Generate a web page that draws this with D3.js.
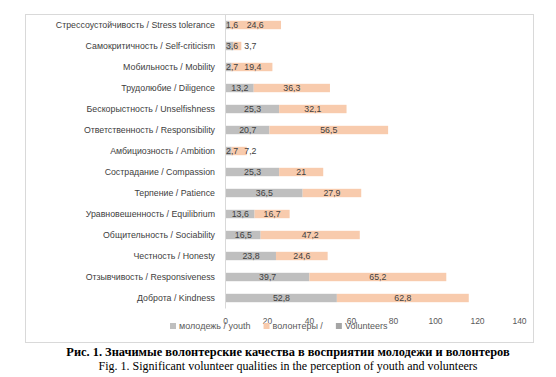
<!DOCTYPE html>
<html>
<head>
<meta charset="utf-8">
<script src="https://cdn.jsdelivr.net/npm/d3@7"></script>
<style>
  body { margin: 0; background: #fff; }
  svg { display: block; }
</style>
</head>
<body>
<div id="chart"></div>
<script>
// categories, top to bottom
var categories = [
    "Стрессоустойчивость / Stress tolerance",
    "Самокритичность / Self-criticism",
    "Мобильность / Mobility",
    "Трудолюбие / Diligence",
    "Бескорыстность / Unselfishness",
    "Ответственность / Responsibility",
    "Амбициозность / Ambition",
    "Сострадание / Compassion",
    "Терпение / Patience",
    "Уравновешенность / Equilibrium",
    "Общительность / Sociability",
    "Честность / Honesty",
    "Отзывчивость / Responsiveness",
    "Доброта / Kindness"
];
var youth      = [1.6, 3.6, 2.7, 13.2, 25.3, 20.7, 2.7, 25.3, 36.5, 13.6, 16.5, 23.8, 39.7, 52.8];
var volunteers = [24.6, 3.7, 19.4, 36.3, 32.1, 56.5, 7.2, 21, 27.9, 16.7, 47.2, 24.6, 65.2, 62.8];
var xTicks = [0, 20, 40, 60, 80, 100, 120, 140];
var legendNames = ["молодежь / youth", "волонтеры /", "Volunteers"];
var captionLines = [
    "Рис. 1. Значимые волонтерские качества в восприятии молодежи и волонтеров",
    "Fig. 1. Significant volunteer qualities in the perception of youth and volunteers"
];

var W = 556, H = 377;
var grayCol = "#bfbfbf", peachCol = "#f8cbad";
var legendColors = [grayCol, peachCol, "#a5a5a5"];
var font = "'Liberation Sans', Arial, sans-serif";

var svg = d3.select("#chart").append("svg")
    .attr("width", W)
    .attr("height", H);

// рамка диаграммы
svg.append("rect")
    .attr("x", 25.5).attr("y", 14.5)
    .attr("width", 508).attr("height", 328)
    .attr("fill", "none")
    .attr("stroke", "#d9d9d9");

var x = d3.scaleLinear().domain([0, 140]).range([225, 519]);
var y = d3.scaleBand().domain(categories).range([14.5, 308.5]).paddingInner(0.6).paddingOuter(0.3);

// x axis labels (no line)
var xAxis = d3.axisBottom(x).tickValues(xTicks).tickSize(0).tickPadding(9);
var gx = svg.append("g")
    .attr("transform", "translate(0,308.5)")
    .call(xAxis);
gx.select(".domain").remove();
gx.selectAll("text")
    .style("font-family", font)
    .style("font-size", "8.5px")
    .attr("fill", "#595959");

// category axis
svg.append("line")
    .attr("x1", x(0) + 0.5).attr("x2", x(0) + 0.5)
    .attr("y1", 14.5).attr("y2", 308.5)
    .attr("stroke", "#d9d9d9");

svg.selectAll("text.cat")
    .data(categories)
    .enter().append("text")
    .attr("class", "cat")
    .attr("x", 215)
    .attr("y", function(d) { return y(d) + y.bandwidth() / 2; })
    .attr("dy", "0.35em")
    .attr("text-anchor", "end")
    .style("font-family", font)
    .style("font-size", "8.8px")
    .attr("fill", "#404040")
    .text(function(d) { return d; });

var rows = categories.map(function(c, i) {
    return { cat: c, youth: youth[i], vol: volunteers[i] };
});

// bars
var g = svg.append("g");
g.selectAll("rect.youth")
    .data(rows)
    .enter().append("rect")
    .attr("x", x(0) + 1)
    .attr("y", function(d) { return y(d.cat); })
    .attr("width", function(d) { return x(d.youth) - x(0); })
    .attr("height", y.bandwidth())
    .attr("fill", grayCol);

g.selectAll("rect.vol")
    .data(rows)
    .enter().append("rect")
    .attr("x", function(d) { return x(d.youth) + 1; })
    .attr("y", function(d) { return y(d.cat); })
    .attr("width", function(d) { return x(d.youth + d.vol) - x(d.youth); })
    .attr("height", y.bandwidth())
    .attr("fill", peachCol);

// data labels, centred in segments, pushed right if they collide
function fmt(v) { return String(v).replace(".", ","); }

rows.forEach(function(d) {
    var cy = y(d.cat) + y.bandwidth() / 2;
    var t1 = g.append("text")
        .attr("y", cy).attr("dy", "0.35em")
        .attr("text-anchor", "middle")
        .style("font-family", font).style("font-size", "8.8px")
        .attr("fill", "#404040")
        .text(fmt(d.youth));
    var w1 = t1.node().getComputedTextLength();
    var c1 = Math.max((x(0) + x(d.youth)) / 2 + 1, x(0) + w1 / 2 + 1);
    t1.attr("x", c1);

    var t2 = g.append("text")
        .attr("y", cy).attr("dy", "0.35em")
        .attr("text-anchor", "middle")
        .style("font-family", font).style("font-size", "8.8px")
        .attr("fill", "#404040")
        .text(fmt(d.vol));
    var w2 = t2.node().getComputedTextLength();
    var c2 = Math.max((x(d.youth) + x(d.youth + d.vol)) / 2 + 1, c1 + w1 / 2 + 6 + w2 / 2);
    t2.attr("x", c2);
});

// legend (overlapping the tick labels as in the original)
var lx = 170, ly = 326;
legendNames.forEach(function(name, i) {
    svg.append("rect")
        .attr("x", lx).attr("y", ly - 3)
        .attr("width", 6).attr("height", 6)
        .attr("fill", legendColors[i]);
    var t = svg.append("text")
        .attr("x", lx + 9).attr("y", ly).attr("dy", "0.35em")
        .style("font-family", font).style("font-size", "9px")
        .attr("fill", "#595959")
        .text(name);
    lx += 9 + t.node().getComputedTextLength() + 13;
});

// caption
svg.selectAll("text.caption")
    .data(captionLines)
    .enter().append("text")
    .attr("class", "caption")
    .attr("x", 288)
    .attr("y", function(d, i) { return 356 + i * 14; })
    .attr("text-anchor", "middle")
    .style("font-family", "'Liberation Serif', 'Times New Roman', serif")
    .style("font-size", function(d, i) { return i == 0 ? "12.4px" : "12px"; })
    .style("font-weight", function(d, i) { return i == 0 ? "bold" : "normal"; })
    .attr("fill", "#000")
    .text(function(d) { return d; });
</script>
</body>
</html>
